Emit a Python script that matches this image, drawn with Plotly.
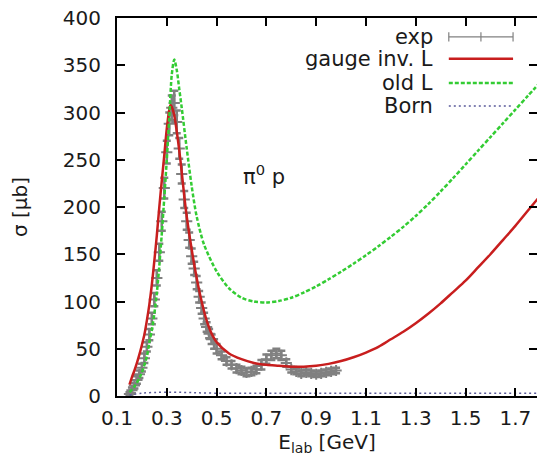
import plotly.graph_objects as go

# ---------------- data ----------------
exp_E = [0.15, 0.16, 0.17, 0.18, 0.19, 0.20, 0.21, 0.22, 0.23, 0.24,
         0.25, 0.26, 0.27, 0.28, 0.29, 0.30, 0.31, 0.32, 0.33, 0.34,
         0.35, 0.36, 0.37, 0.38, 0.39, 0.40, 0.41, 0.42, 0.43, 0.44,
         0.45, 0.46, 0.47, 0.48, 0.49, 0.50, 0.52, 0.54, 0.56, 0.58,
         0.60, 0.62, 0.64, 0.66, 0.68, 0.70, 0.72, 0.74, 0.76, 0.78,
         0.80, 0.82, 0.84, 0.86, 0.88, 0.90, 0.92, 0.94, 0.96, 0.98]
exp_sigma = [2, 6, 11, 17, 23, 30, 40, 52, 65, 82,
             102, 125, 152, 185, 220, 258, 288, 305, 310, 290,
             262, 235, 208, 185, 165, 148, 135, 120, 105, 93,
             82, 73, 66, 60, 55, 50, 43, 37, 33, 29,
             27, 25, 26, 28, 33, 39, 43, 45, 43, 35,
             28, 26, 24, 25, 24, 23, 24, 25, 26, 27]
exp_err = [2, 3, 3, 4, 4, 4, 5, 5, 6, 6,
           7, 8, 9, 10, 11, 12, 12, 13, 13, 12,
           11, 10, 9, 9, 8, 8, 7, 7, 6, 6,
           6, 5, 5, 5, 5, 5, 4, 4, 4, 4,
           4, 4, 4, 4, 5, 5, 5, 5, 5, 4,
           3, 3, 3, 3, 3, 3, 3, 3, 3, 3]

gauge_E = [0.15, 0.16, 0.17, 0.18, 0.19, 0.20, 0.21, 0.22, 0.23, 0.24,
           0.25, 0.26, 0.27, 0.28, 0.29, 0.30, 0.31, 0.315, 0.32, 0.33,
           0.34, 0.35, 0.36, 0.37, 0.38, 0.40, 0.42, 0.44, 0.46, 0.48,
           0.50, 0.55, 0.60, 0.65, 0.70, 0.75, 0.80, 0.85, 0.90, 0.95,
           1.00, 1.05, 1.10, 1.15, 1.20, 1.25, 1.30, 1.35, 1.40, 1.45,
           1.50, 1.55, 1.60, 1.65, 1.70, 1.75, 1.80]
gauge_sigma = [12, 20, 27, 35, 44, 54, 65, 80, 97, 118,
               143, 170, 200, 228, 255, 283, 303, 308, 306, 297,
               280, 260, 237, 212, 190, 155, 125, 100, 80, 66,
               57, 45, 39, 35, 33, 32, 31, 31, 32, 34,
               37, 41, 46, 52, 60, 68, 77, 87, 98, 110,
               122, 136, 150, 165, 180, 196, 212]

old_E = [0.15, 0.17, 0.19, 0.20, 0.22, 0.23, 0.24, 0.25, 0.26, 0.27,
         0.28, 0.29, 0.30, 0.31, 0.32, 0.33, 0.34, 0.35, 0.36, 0.38,
         0.40, 0.42, 0.45, 0.50, 0.55, 0.60, 0.65, 0.70, 0.75, 0.80,
         0.85, 0.90, 0.95, 1.00, 1.05, 1.10, 1.15, 1.20, 1.25, 1.30,
         1.35, 1.40, 1.45, 1.50, 1.55, 1.60, 1.65, 1.70, 1.75, 1.80]
old_sigma = [4, 10, 19, 25, 42, 57, 70, 87, 109, 138,
             172, 210, 250, 295, 340, 356, 345, 325, 305, 262,
             222, 190, 160, 132, 114, 104, 100, 99, 100.5, 104,
             109.5, 116, 123.5, 131.5, 140, 149, 158.5, 168.5, 179, 190.5,
             203, 216.5, 230.5, 245, 259.5, 274, 288.5, 303, 317.5, 332]

born_E = [0.15, 0.20, 0.30, 0.50, 0.80, 1.10, 1.40, 1.80]
born_sigma = [1, 3, 4, 3, 3, 3, 3, 3]

x_ticks = [0.1, 0.3, 0.5, 0.7, 0.9, 1.1, 1.3, 1.5, 1.7]
y_ticks = [0, 50, 100, 150, 200, 250, 300, 350, 400]

legend_labels = ["exp", "gauge inv. L", "old L", "Born"]

# ---------------- style ----------------
FONT = "DejaVu Sans"
TXT = "#1a1a1a"
GRAY = "#808080"
RED = "#c81e1e"
GREEN = "#33cc33"
BLUE = "#5a5a9a"

fig = go.Figure()

fig.add_trace(go.Scatter(
    x=exp_E, y=exp_sigma, mode="markers", name=legend_labels[0],
    marker=dict(symbol="cross-thin", size=8, color=GRAY,
                line=dict(color=GRAY, width=2)),
    error_y=dict(type="data", array=exp_err, color=GRAY, thickness=2.5, width=4),
    showlegend=False))

fig.add_trace(go.Scatter(
    x=gauge_E, y=gauge_sigma, mode="lines", name=legend_labels[1],
    line=dict(color=RED, width=2.5, shape="spline", smoothing=0.8),
    showlegend=False))

fig.add_trace(go.Scatter(
    x=old_E, y=old_sigma, mode="lines", name=legend_labels[2],
    line=dict(color=GREEN, width=2.5, dash="4px,2px", shape="spline", smoothing=0.8),
    showlegend=False))

fig.add_trace(go.Scatter(
    x=born_E, y=born_sigma, mode="lines", name=legend_labels[3],
    line=dict(color=BLUE, width=1.5, dash="2px,3px", shape="spline"),
    showlegend=False))

# invisible trace to activate the right-hand tick axis
fig.add_trace(go.Scatter(x=[], y=[], yaxis="y2", showlegend=False, hoverinfo="skip"))

# ---------------- manual gnuplot-style key ----------------
key_rows = [0.950, 0.892, 0.828, 0.767]
key_text_x = 0.757
key_x0, key_x1 = 0.790, 0.943
key_styles = [dict(color=GRAY, width=1.2),
              dict(color=RED, width=2.5),
              dict(color=GREEN, width=2.5, dash="4px,2px"),
              dict(color=BLUE, width=1.5, dash="2px,3px")]
for lbl, ry, st in zip(legend_labels, key_rows, key_styles):
    fig.add_annotation(xref="paper", yref="paper", x=key_text_x, y=ry,
                       text=lbl, showarrow=False, xanchor="right", yanchor="middle",
                       font=dict(family=FONT, size=21, color=TXT))
    fig.add_shape(type="line", xref="paper", yref="paper",
                  x0=key_x0, x1=key_x1, y0=ry, y1=ry, line=st)
for cx in (key_x0, (key_x0 + key_x1) / 2, key_x1):
    fig.add_shape(type="line", xref="paper", yref="paper",
                  x0=cx, x1=cx, y0=key_rows[0] - 0.012, y1=key_rows[0] + 0.012,
                  line=dict(color=GRAY, width=1.2))

fig.add_annotation(x=0.69, y=234, xref="x", yref="y",
                   text="π<sup>0</sup> p", showarrow=False,
                   font=dict(family=FONT, size=21, color=TXT))

tick_common = dict(ticks="inside", ticklen=8, tickwidth=2, tickcolor="black",
                   showgrid=False, zeroline=False, automargin=False,
                   tickfont=dict(family=FONT, size=20, color=TXT))

fig.update_layout(
    width=537, height=469,
    margin=dict(l=117, r=0, t=18, b=73),
    paper_bgcolor="white", plot_bgcolor="white",
    font=dict(family=FONT, size=20, color=TXT),
    xaxis=dict(range=[0.1, 1.787], tickvals=x_ticks,
               ticktext=[f"{v:.1f}" for v in x_ticks],
               showline=True, linecolor="black", linewidth=2, mirror="ticks",
               ticklabelstandoff=3,
               title=dict(text="E<sub>lab</sub> [GeV]", standoff=0,
                          font=dict(family=FONT, size=20, color=TXT)),
               **tick_common),
    yaxis=dict(range=[0, 400], tickvals=y_ticks,
               showline=True, linecolor="black", linewidth=2, mirror=False,
               ticklabelstandoff=10,
               title=dict(text="σ [μb]", standoff=30,
                          font=dict(family=FONT, size=20, color=TXT)),
               **tick_common),
    yaxis2=dict(range=[0, 400], tickvals=y_ticks, overlaying="y", side="right",
                showline=False, showticklabels=False, **tick_common),
)

fig.write_html("out.html", post_script="document.body.style.margin='0px';",
               config={"displayModeBar": False})
